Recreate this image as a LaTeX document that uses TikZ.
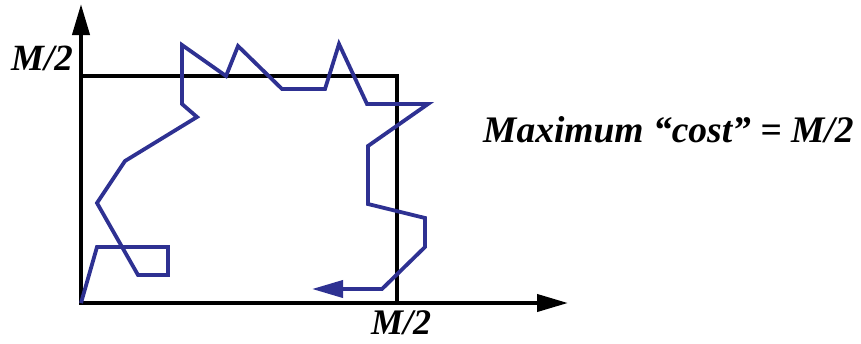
\documentclass[tikz,border=0pt]{standalone}
\usepackage{fontspec}
\setmainfont{Liberation Serif}
\usetikzlibrary{arrows.meta}

\begin{document}
\begin{tikzpicture}[x=1pt,y=-1pt,
  lbl/.style={font=\bfseries\itshape\fontsize{37}{42}\selectfont,inner sep=0pt},
  axis/.style={line width=4pt,-{Triangle[length=31pt,width=17pt]}},
  walk/.style={line width=3.8pt,draw={rgb,255:red,46;green,49;blue,146},
    -{Triangle[length=31pt,width=17pt]}}]
\useasboundingbox (0,0) rectangle (861,343);

\coordinate (O) at (81,303);
\coordinate (C) at (397,76);
\draw[axis] (O) -- (81,4) coordinate (ytip);
\draw[axis] (O) -- (568,303) coordinate (xtip);
\draw[line width=4pt] (O) rectangle (C);

% the path that leaves the square and comes back
\draw[walk] (O) -- (97,247) -- (168,247) -- (168,275) -- (138,275)
  -- (97,203) -- (125,161) -- (197,117) -- (182,104) -- (182,45)
  -- (226,76) -- (238,46) -- (282,89) -- (325,89) -- (339,44)
  -- (367,104) -- (428,104) -- (368,146) -- (368,204) -- (425,218)
  -- (425,247) -- (382,289) -- (312,289);

\node[lbl,anchor=base east] (ylab) at (73,70) {M/2};
\node[lbl,font=\bfseries\itshape\fontsize{36}{42}\selectfont,anchor=base] (xlab) at (401,334) {M/2};
\node[lbl,font=\bfseries\itshape\fontsize{37.5}{42}\selectfont,anchor=base west] (cost) at (483,142) {Maximum “cost” = M/2};
\end{tikzpicture}
\end{document}
